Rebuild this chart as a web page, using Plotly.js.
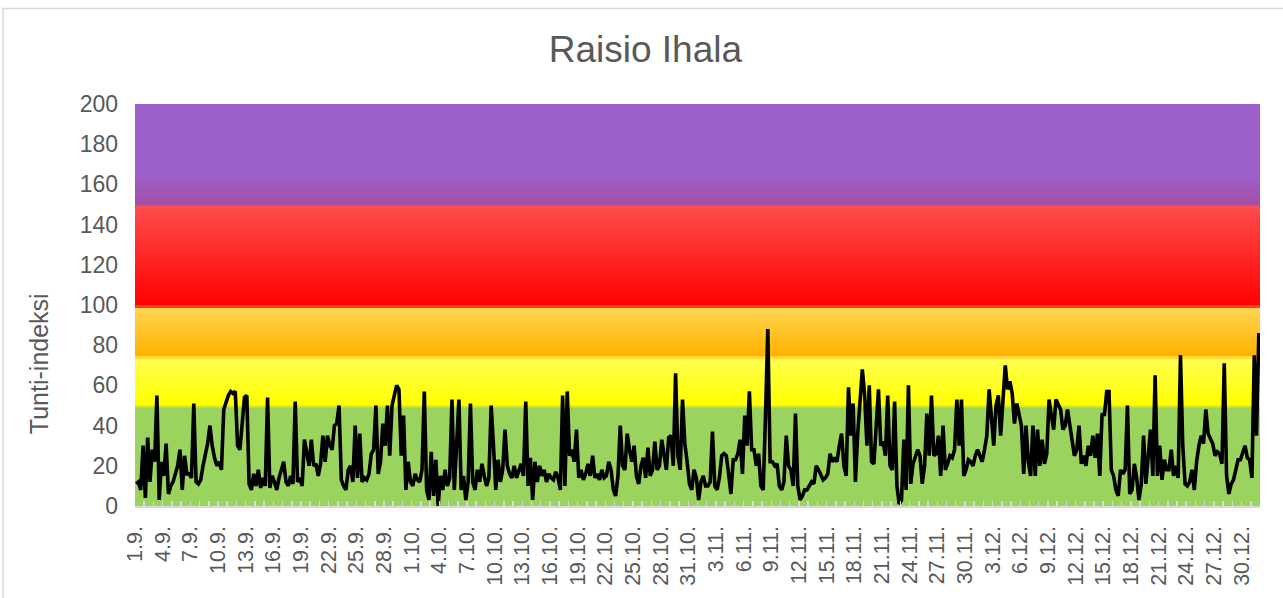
<!DOCTYPE html>
<html>
<head>
<meta charset="utf-8">
<script src="https://cdn.plot.ly/plotly-3.0.1.min.js"></script>
<style>
html,body{margin:0;padding:0;background:#ffffff;}
#chart{width:1283px;height:598px;}
</style>
</head>
<body>
<div id="chart"></div>
<script>
// ---------- data ----------
const chartTitle = 'Raisio Ihala';
const yAxisTitle = 'Tunti-indeksi';
const pointsPerDay = 4;   // readings per day (6-hour resolution)
const dayCount = 122;     // 1.9. – 31.12.

const dayLabels = ['1.9.','4.9.','7.9.','10.9.','13.9.','16.9.','19.9.','22.9.','25.9.','28.9.',
  '1.10.','4.10.','7.10.','10.10.','13.10.','16.10.','19.10.','22.10.','25.10.','28.10.','31.10.',
  '3.11.','6.11.','9.11.','12.11.','15.11.','18.11.','21.11.','24.11.','27.11.','30.11.',
  '3.12.','6.12.','9.12.','12.12.','15.12.','18.12.','21.12.','24.12.','27.12.','30.12.'];

const yTickValues = [0,20,40,60,80,100,120,140,160,180,200];

// index class thresholds (lower, upper)
const bandLower = [0, 49, 50, 73, 74.5, 98.5, 100, 149.5, 165];
const bandUpper = [49, 50, 73, 74.5, 98.5, 100, 149.5, 165, 200];

const septemberValues = [
  11,12,8,30,  4,34,12,28,  22,55,3,22,  15,31,6,10,  12,16,20,28,
  8,25,16,16,  14,51,12,11,  13,20,26,31,  40,30,24,20,  22,18,48,52,
  55,57,56,57,  30,28,41,54,  55,11,8,16,  10,18,9,14,  10,54,9,15,
  12,8,14,18,  22,12,10,15,  11,52,12,14,  10,33,25,20,  33,20,21,15,
  21,35,22,35,  30,28,40,41,  50,13,10,8,  18,20,12,40,  14,36,12,14,
  13,16,26,28,  50,16,22,41,  30,50,25,50,  55,60,58,25,  45,8,22,12
];
const octoberValues = [
  10,16,13,12,  18,57,8,3,  27,5,23,0,  15,8,18,10,  14,53,8,31,
  53,8,15,3,  12,51,12,8,  18,12,21,15,  10,14,50,30,  8,23,12,18,
  38,20,16,14,  20,14,18,21,  15,52,10,24,  3,22,12,20,  15,18,12,16,
  14,13,17,14,  8,55,10,57,  25,28,22,38,  14,18,13,16,  21,15,25,14,
  16,13,18,14,  15,22,18,8,  5,15,40,20,  18,36,28,22,  30,15,11,20,
  24,14,29,15,  18,32,18,20,  33,25,18,34,  35,20,66,25,  18,53,31,22,
  11,8,18,14
];
const novemberValues = [
  3,12,15,10,  10,12,37,10,  8,14,25,26,  25,16,6,23,  23,26,33,16,
  45,30,57,28,  28,20,26,10,  8,45,88,22,  22,20,21,10,  8,12,35,20,
  18,10,46,10,  3,5,8,8,  10,12,11,20,  18,15,13,14,  16,26,22,24,
  22,30,36,20,  15,59,35,51,  12,36,50,68,  55,30,60,22,  21,40,58,30,
  32,25,55,20,  18,52,10,1,  3,33,8,60,  11,21,25,28,  25,11,20,46,
  25,55,25,26,  35,15,40,18,  21,25,24,28,  53,30,53,15,  18,23,22,20
];
const decemberValues = [
  25,28,25,22,  28,35,58,45,  30,50,55,35,  55,70,58,62,  56,41,51,45,
  40,16,40,22,  15,40,15,38,  20,33,21,26,  53,45,38,53,  50,48,38,40,
  48,40,33,25,  28,40,21,25,  20,30,25,35,  24,36,15,46,  45,57,57,18,
  15,8,5,18,  16,18,50,6,  8,21,14,3,  11,35,11,25,  38,15,65,15,
  30,13,23,18,  18,28,15,20,  14,75,30,11,  10,12,18,8,  22,30,35,31,
  48,36,33,31,  25,27,26,21,  71,15,6,11,  13,18,23,23,  26,30,24,23,
  14,75,35,86
];

// ---------- styles ----------
const FONT = 'Liberation Sans, Arial, sans-serif';
const TEXT = '#595959';
// colour at top / bottom of each band (rgb)
const bandTopColor = [
  [155,211,95],[214,232,40],[255,255,80],[255,222,60],[255,213,82],
  [255,62,24],[255,78,78],[157,96,202],[157,96,202]
];
const bandBottomColor = [
  [155,211,95],[214,232,40],[255,255,0],[255,222,60],[255,178,0],
  [255,62,24],[255,0,0],[164,78,164],[157,96,202]
];

// ---------- build ----------
const values = septemberValues.concat(octoberValues, novemberValues, decemberValues);
const xs = values.map((v, i) => (i + 0.5) / pointsPerDay);

const tickVals = [];
const tickText = [];
for (let d = 0; d <= dayCount; d++) {
  tickVals.push(d);
  tickText.push(d % 3 === 0 && dayLabels[d / 3] !== undefined ? dayLabels[d / 3] : '');
}

const shapes = [];
// outer chart border
shapes.push({
  type: 'rect', xref: 'paper', yref: 'paper', layer: 'below',
  x0: -0.1173, x1: 1.03, y0: -0.3, y1: 1.2376,
  line: {color: '#d9d9d9', width: 1.5}, fillcolor: 'rgba(0,0,0,0)'
});
function mix(a, b, t) {
  return 'rgb(' + a.map((c, k) => Math.round(c + (b[k] - c) * t)).join(',') + ')';
}
for (let b = 0; b < bandLower.length; b++) {
  const lo = bandLower[b], hi = bandUpper[b];
  const top = bandTopColor[b], bot = bandBottomColor[b];
  const same = top.every((c, k) => c === bot[k]);
  const n = same ? 1 : 24;
  for (let s = 0; s < n; s++) {
    const y0 = lo + (hi - lo) * s / n;
    const y1 = lo + (hi - lo) * (s + 1) / n;
    const t = n === 1 ? 0 : (s + 0.5) / n;
    const last = (b === bandLower.length - 1 && s === n - 1);
    shapes.push({
      type: 'rect', xref: 'paper', yref: 'y', layer: 'below',
      x0: 0, x1: 1, y0: y0, y1: last ? 200 : Math.min(200, y1 + 1.2),
      line: {width: 0}, fillcolor: mix(bot, top, t)
    });
  }
}

const trace = {
  x: xs, y: values, type: 'scatter', mode: 'lines',
  line: {color: '#000000', width: 3.6},
  hoverinfo: 'skip', showlegend: false
};

const layout = {
  width: 1283, height: 598,
  margin: {l: 135, r: 23, t: 104, b: 92},
  paper_bgcolor: '#ffffff', plot_bgcolor: '#ffffff',
  showlegend: false,
  title: {
    text: chartTitle, font: {family: FONT, size: 37, color: TEXT},
    xref: 'container', x: 0.503, xanchor: 'center',
    yref: 'container', y: 0.918, yanchor: 'middle'
  },
  xaxis: {
    range: [0, dayCount], tickmode: 'array', tickvals: tickVals, ticktext: tickText,
    tickangle: -90, tickfont: {family: FONT, size: 21.5, color: TEXT},
    showgrid: false, zeroline: false,
    showline: true, linecolor: '#d9d9d9', linewidth: 1.5,
    ticks: 'inside', ticklen: 5, tickcolor: '#d9d9d9', tickwidth: 1.5,
    ticklabelstandoff: 10, fixedrange: true
  },
  yaxis: {
    range: [0, 200], tickmode: 'array', tickvals: yTickValues,
    tickfont: {family: FONT, size: 23, color: TEXT},
    showgrid: false, zeroline: false, showline: false, ticks: '',
    ticklabelstandoff: 16, fixedrange: true
  },
  shapes: shapes,
  annotations: [{
    text: yAxisTitle, textangle: -90, showarrow: false,
    xref: 'paper', yref: 'paper', x: -0.0853, y: 0.353,
    xanchor: 'center', yanchor: 'middle',
    font: {family: FONT, size: 25, color: TEXT}
  }]
};

Plotly.newPlot('chart', [trace], layout, {staticPlot: true, displayModeBar: false});
</script>
</body>
</html>
